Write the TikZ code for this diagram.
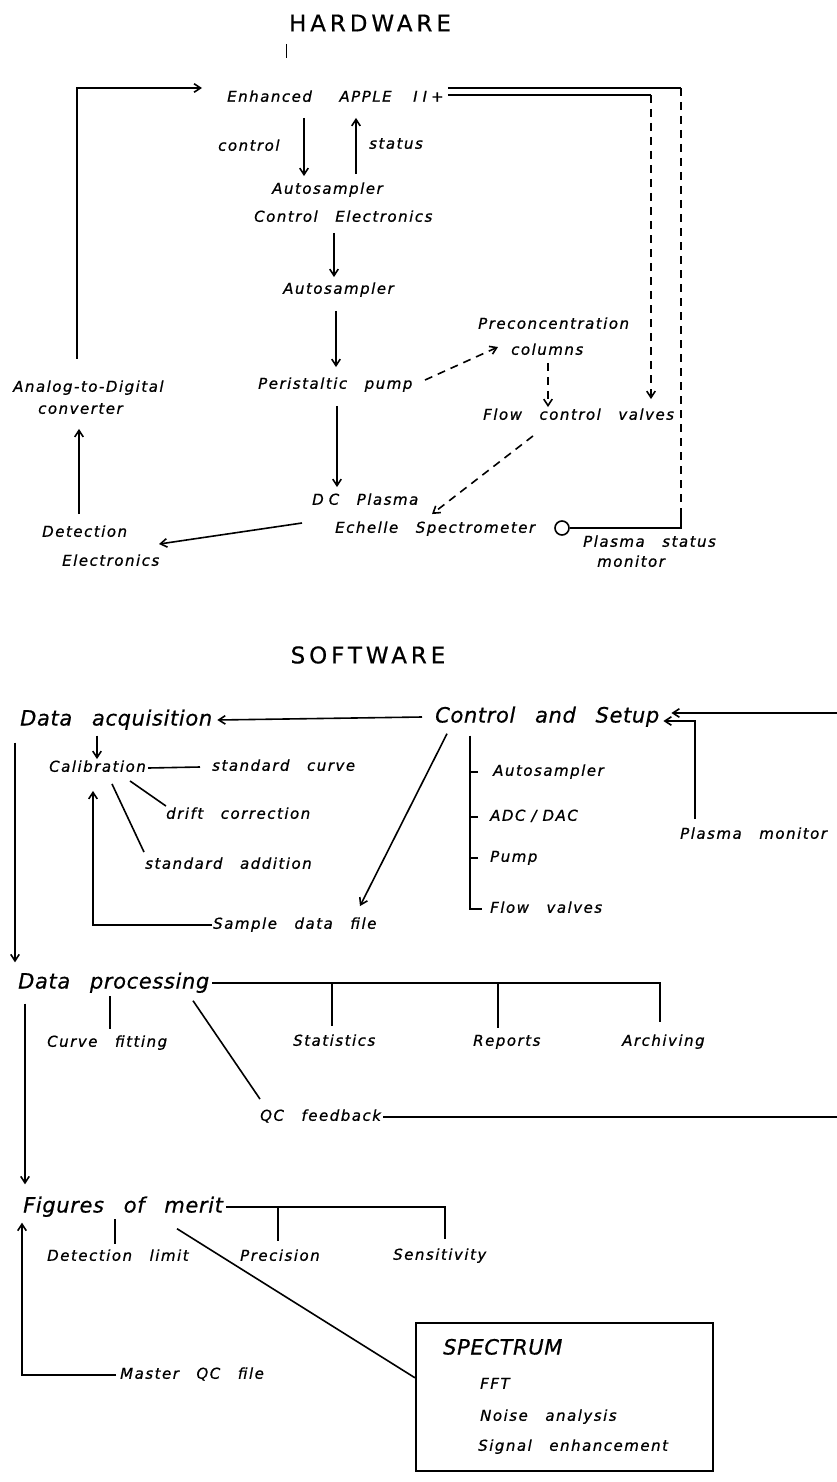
\documentclass[tikz,border=0pt]{standalone}
\usepackage{fontspec}
\setmainfont{DejaVu Sans}
\newfontfamily\smallhand{DejaVu Sans}[LetterSpace=10,WordSpace=2.8,FakeBold=0.8]
\newfontfamily\bighand{DejaVu Sans}[LetterSpace=3,WordSpace=2.7,FakeBold=0.6]
\newfontfamily\titlehand{DejaVu Sans}[LetterSpace=17,FakeBold=0.5]
\usetikzlibrary{arrows.meta}

\tikzset{
  wire/.style={line width=1.6pt},
  dashwire/.style={wire, dash pattern=on 8pt off 6pt},
  arr/.style={wire, -{Straight Barb[length=6.5pt,width=8.5pt]}},
  lbl/.style={anchor=west, inner sep=0pt, text height=11pt, text depth=3.5pt,
    font=\smallhand\itshape\fontsize{15}{17}\selectfont},
  biglbl/.style={lbl, text height=16pt, text depth=5pt,
    font=\bighand\itshape\fontsize{21}{24}\selectfont},
  heading/.style={inner sep=0pt, font=\titlehand\fontsize{23}{27}\selectfont},
}

\begin{document}
\begin{tikzpicture}[x=1pt,y=-1pt]
    \path[use as bounding box, fill=white] (0,0) rectangle (837,1482);

    % ---- hardware ----
    \node[heading] (hw) at (370,23) {HARDWARE};
    \draw[line width=0.6pt] (286,44) -- (286,58);

    \node[lbl] (apple) at (227,98) {Enhanced\hspace{10pt} APPLE\hspace{4pt} I\kern5pt I\kern4pt+};
    \node[lbl] (ctl) at (218,147) {control};
    \node[lbl] (stt) at (369,145) {status};
    \node[lbl] (asce1) at (272,190) {Autosampler};
    \node[lbl] (asce2) at (254,218) {Control Electronics};
    \node[lbl] (auto) at (283,290) {Autosampler};
    \node[lbl] (pump) at (258,385) {Peristaltic pump};
    \node[lbl] (dcp) at (312,501) {D\kern5pt C Plasma};
    \node[lbl] (ech) at (335,529) {Echelle Spectrometer};
    \node[lbl] (det) at (42,533) {Detection};
    \node[lbl] (elec) at (62,562) {Electronics};
    \node[lbl] (adc) at (13,388) {Analog-to-Digital};
    \node[lbl] (conv) at (38,410) {converter};
    \node[lbl] (pre) at (478,325) {Preconcentration};
    \node[lbl] (col) at (511,351) {columns};
    \node[lbl] (fcv) at (483,416) {Flow control valves};
    \node[lbl] (psm) at (583,543) {Plasma status};
    \node[lbl] (psm2) at (597,563) {monitor};
    \node[circle, draw, line width=1.6pt, minimum size=14pt, inner sep=0pt] (mon) at (562,528) {};

    \draw[arr] ([xshift=64pt,yshift=22pt]adc.north west) |- ([xshift=-25pt,yshift=10pt]apple.west);
    \draw[arr] ([xshift=77pt,yshift=-12.5pt]apple.south west) -- ([xshift=32pt,yshift=6.5pt]asce1.north west);
    \draw[arr] ([xshift=84pt,yshift=8.5pt]asce1.north west) -- ([xshift=129pt,yshift=-12.5pt]apple.south west);
    \draw[arr] ([xshift=80pt,yshift=-7.5pt]asce2.south west) -- ([xshift=51pt,yshift=5.5pt]auto.north west);
    \draw[arr] ([xshift=53pt,yshift=-13.5pt]auto.south west) -- ([xshift=78pt,yshift=10.5pt]pump.north west);
    \draw[arr] ([xshift=79pt,yshift=-13.5pt]pump.south west) -- ([xshift=25pt,yshift=6.5pt]dcp.north west);
    \draw[arr] ([xshift=-33pt,yshift=6pt]ech.west) -- ([xshift=97pt,yshift=10.5pt]elec.north west);
    \draw[arr] ([xshift=37pt,yshift=11.5pt]det.north west) -- ([xshift=41pt,yshift=-11.5pt]conv.south west);
    \draw[dashwire, arr] ([xshift=167pt,yshift=5pt]pump.west) -- ([xshift=-13pt,yshift=4pt]col.west);
    \draw[dashwire, arr] ([xshift=37pt,yshift=-4.5pt]col.south west) -- ([xshift=65pt,yshift=1.5pt]fcv.north west);
    \draw[dashwire, arr] ([xshift=50pt,yshift=-12.5pt]fcv.south west) -- ([xshift=97pt,yshift=7.5pt]ech.north west);

    % lines out of the computer
    \coordinate (busL) at (651,95);
    \coordinate (busR) at (681,88);
    \coordinate (monR) at (681,528);
    \draw[wire] ([xshift=4pt,yshift=3pt]apple.east) -- (busL);
    \draw[wire] ([xshift=4pt,yshift=10pt]apple.east) -- (busR);
    \draw[dashwire, arr] (busL) -- ([xshift=168pt,yshift=9.5pt]fcv.north west);
    \draw[dashwire] (busR) -- ([yshift=12pt]monR);
    \draw[wire] ([yshift=12pt]monR) -- (monR) -- (mon.east);

    % ---- software ----
    \node[heading] (sw) at (368,655) {SOFTWARE};

    \node[biglbl] (acq) at (20,720) {Data acquisition};
    \node[biglbl] (cs) at (435,717) {Control and Setup};
    \node[lbl] (cal) at (49,768) {Calibration};
    \node[lbl] (stc) at (212,767) {standard curve};
    \node[lbl] (dri) at (166,815) {drift correction};
    \node[lbl] (sta) at (145,865) {standard addition};
    \node[lbl] (sdf) at (213,925) {Sample data file};
    \node[lbl] (as) at (493,772) {Autosampler};
    \node[lbl] (ad) at (490,817) {ADC\kern6pt/\kern6pt DAC};
    \node[lbl] (pmp) at (490,858) {Pump};
    \node[lbl] (fv) at (490,909) {Flow valves};
    \node[lbl] (pm) at (680,835) {Plasma monitor};

    \node[biglbl] (proc) at (18,983) {Data processing};
    \node[lbl] (cfit) at (47,1043) {Curve fitting};
    \node[lbl] (stat) at (293,1042) {Statistics};
    \node[lbl] (rep) at (473,1042) {Reports};
    \node[lbl] (arc) at (622,1042) {Archiving};
    \node[lbl] (qc) at (260,1117) {QC feedback};

    \node[biglbl] (fom) at (23,1207) {Figures of merit};
    \node[lbl] (dl) at (47,1257) {Detection limit};
    \node[lbl] (prec) at (240,1257) {Precision};
    \node[lbl] (sens) at (393,1256) {Sensitivity};
    \node[lbl] (mqc) at (120,1375) {Master QC file};

    \node[draw, line width=1.6pt, anchor=north west, minimum width=297pt,
          minimum height=148pt] (spec) at (415,1322) {};
    \node[biglbl] (specT) at (443,1349) {SPECTRUM};
    \node[lbl] (fft) at (480,1385) {FFT};
    \node[lbl] (noise) at (480,1417) {Noise analysis};
    \node[lbl] (sig) at (478,1447) {Signal enhancement};

    % acquisition branch
    \draw[arr] ([xshift=-13pt]cs.west) -- ([xshift=5pt]acq.east);
    \draw[arr] ([xshift=77pt,yshift=-5pt]acq.south west) -- ([xshift=48pt,yshift=1.5pt]cal.north west);
    \draw[wire] ([xshift=2pt]cal.east) -- ([xshift=-12pt]stc.west);
    \draw[wire] ([xshift=81pt,yshift=-5.5pt]cal.south west) -- ([yshift=1.5pt]dri.north west);
    \draw[wire] ([xshift=63pt,yshift=-8.5pt]cal.south west) -- ([xshift=-1pt,yshift=5.5pt]sta.north west);
    \draw[arr] ([xshift=-1pt]sdf.west) -| ([xshift=44pt,yshift=-15.5pt]cal.south west);
    \draw[arr] ([xshift=12pt,yshift=-6pt]cs.south west) -- ([xshift=147pt,yshift=11.5pt]sdf.north west);
    \draw[arr] ([xshift=-5pt,yshift=-12pt]acq.south west) -- ([xshift=-3pt,yshift=10pt]proc.north west);

    % setup bus
    \draw[wire] ([xshift=35pt,yshift=-8pt]cs.south west) |- ([xshift=-8pt]fv.west);
    \draw[wire] ([xshift=-23pt]as.west) -- ([xshift=-15pt]as.west);
    \draw[wire] ([xshift=-20pt]ad.west) -- ([xshift=-12pt]ad.west);
    \draw[wire] ([xshift=-20pt]pmp.west) -- ([xshift=-12pt]pmp.west);
    \draw[arr] ([xshift=15pt,yshift=8.5pt]pm.north west) |- ([xshift=4pt,yshift=-4pt]cs.east);
    \coordinate (fbR) at (837,713);
    \draw[arr] (fbR) -- ([xshift=12pt,yshift=4pt]cs.east);

    % processing branch
    \draw[wire] ([xshift=3pt]proc.east) -| ([xshift=38pt,yshift=12.5pt]arc.north west);
    \draw[wire] ([xshift=39pt,yshift=52.5pt]stat.north west) -- ([xshift=39pt,yshift=8.5pt]stat.north west);
    \draw[wire] ([xshift=25pt,yshift=52.5pt]rep.north west) -- ([xshift=25pt,yshift=6.5pt]rep.north west);
    \draw[wire] ([xshift=63pt,yshift=39.5pt]cfit.north west) -- ([xshift=63pt,yshift=6.5pt]cfit.north west);
    \draw[wire] ([xshift=175pt,yshift=-7pt]proc.south west) -- ([yshift=10.5pt]qc.north west);
    \coordinate (qcR) at (837,1117);
    \draw[wire] ([xshift=2pt]qc.east) -- (qcR);
    \draw[arr] ([xshift=7pt,yshift=-10pt]proc.south west) -- ([xshift=2pt,yshift=12pt]fom.north west);

    % figures of merit branch
    \draw[wire] ([xshift=3pt]fom.east) -| ([xshift=52pt,yshift=9.5pt]sens.north west);
    \draw[wire] ([xshift=38pt,yshift=43.5pt]prec.north west) -- ([xshift=38pt,yshift=8.5pt]prec.north west);
    \draw[wire] ([xshift=68pt,yshift=30.5pt]dl.north west) -- ([xshift=68pt,yshift=5.5pt]dl.north west);
    \draw[wire] ([xshift=154pt,yshift=-11pt]fom.south west) -- ([yshift=19pt]spec.west);
    \draw[arr] ([xshift=-4pt]mqc.west) -| ([xshift=-1pt,yshift=-5pt]fom.south west);
\end{tikzpicture}
\end{document}
